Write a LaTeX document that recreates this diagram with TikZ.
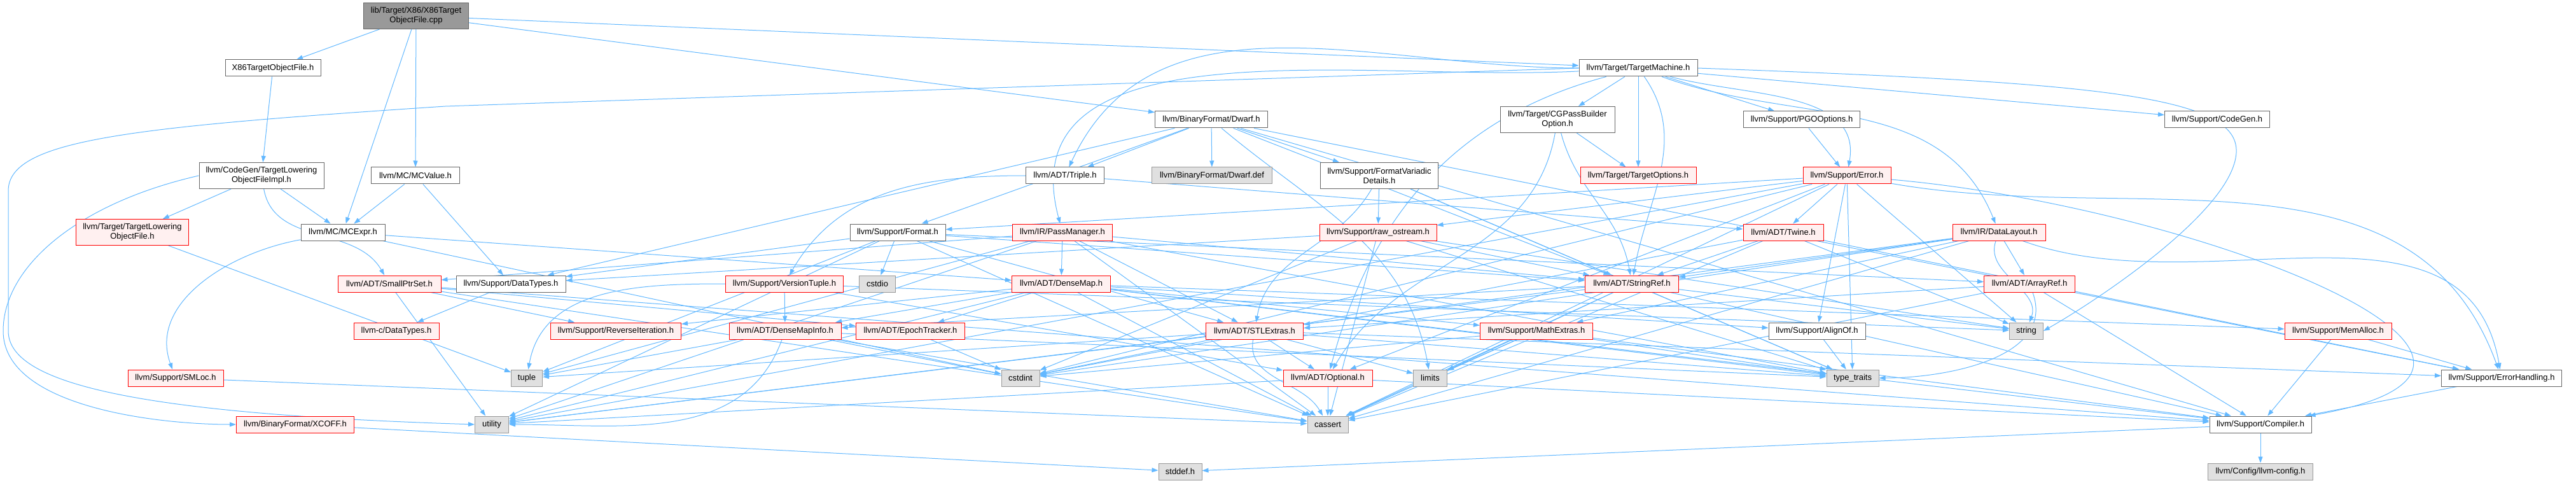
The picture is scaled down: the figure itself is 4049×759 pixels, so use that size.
\documentclass[tikz,border=0pt]{standalone}
\usepackage{fontspec}
\setmainfont{Liberation Sans}
\usepackage{xcolor}
\usepackage{tikz}
\usetikzlibrary{arrows.meta,backgrounds}
\definecolor{DXEdge}{HTML}{63B8FF}
\definecolor{DXLine}{HTML}{666666}
\definecolor{DXRed}{HTML}{FF0000}
\definecolor{DXRedFill}{HTML}{FFF0F0}
\definecolor{DXSys}{HTML}{E0E0E0}
\definecolor{DXSysLine}{HTML}{999999}
\definecolor{DXRoot}{HTML}{999999}

\begin{document}
\begin{tikzpicture}[x=1pt,y=-1pt,
  hdr/.style={draw=DXLine,fill=white,line width=1pt,inner sep=0pt,minimum height=26pt,align=center,font=\fontsize{13}{15}\selectfont},
  hdrred/.style={hdr,draw=DXRed,fill=DXRedFill},
  hdrsys/.style={hdr,draw=DXSysLine,fill=DXSys},
  hdrroot/.style={hdr,fill=DXRoot},
  dep/.style={DXEdge,line width=1pt,-{Stealth[length=10pt,width=7pt,inset=0pt]}}]
\useasboundingbox (0,0) rectangle (4049,759);
\node[hdrroot,minimum width=165,minimum height=41] (root) at (654,25) {lib/Target/X86/X86Target\\ObjectFile.cpp};
\node[hdr,minimum width=150] (x86tof) at (429,107) {X86TargetObjectFile.h};
\node[hdr,minimum width=186] (tm) at (2575,107) {llvm/Target/TargetMachine.h};
\node[hdr,minimum width=177] (dwarf) at (1904,188) {llvm/BinaryFormat/Dwarf.h};
\node[hdr,minimum width=180,minimum height=41] (cgpass) at (2448,188) {llvm/Target/CGPassBuilder\\Option.h};
\node[hdr,minimum width=183] (pgo) at (2832,188) {llvm/Support/PGOOptions.h};
\node[hdr,minimum width=165] (codegen) at (3485,188) {llvm/Support/CodeGen.h};
\node[hdr,minimum width=196,minimum height=41] (tlofimpl) at (411,276) {llvm/CodeGen/TargetLowering\\ObjectFileImpl.h};
\node[hdr,minimum width=139] (mcvalue) at (653,276) {llvm/MC/MCValue.h};
\node[hdr,minimum width=123] (triple) at (1674,276) {llvm/ADT/Triple.h};
\node[hdrsys,minimum width=189] (dwarfdef) at (1905,276) {llvm/BinaryFormat/Dwarf.def};
\node[hdr,minimum width=185,minimum height=41] (fvd) at (2168,276) {llvm/Support/FormatVariadic\\Details.h};
\node[hdrred,minimum width=182] (topts) at (2575,276) {llvm/Target/TargetOptions.h};
\node[hdrred,minimum width=138] (error) at (2903,276) {llvm/Support/Error.h};
\node[hdrred,minimum width=177,minimum height=41] (tlof) at (208,365) {llvm/Target/TargetLowering\\ObjectFile.h};
\node[hdr,minimum width=132] (mcexpr) at (539,365) {llvm/MC/MCExpr.h};
\node[hdr,minimum width=150] (format) at (1411,365) {llvm/Support/Format.h};
\node[hdrred,minimum width=157] (passmgr) at (1670,365) {llvm/IR/PassManager.h};
\node[hdrred,minimum width=184] (rawos) at (2166,365) {llvm/Support/raw\_ostream.h};
\node[hdrred,minimum width=126] (twine) at (2803,365) {llvm/ADT/Twine.h};
\node[hdrred,minimum width=146] (datalayout) at (3142,365) {llvm/IR/DataLayout.h};
\node[hdrred,minimum width=162] (smallptrset) at (612,446) {llvm/ADT/SmallPtrSet.h};
\node[hdr,minimum width=172] (datatypes) at (803,446) {llvm/Support/DataTypes.h};
\node[hdrred,minimum width=185] (versiontuple) at (1233,446) {llvm/Support/VersionTuple.h};
\node[hdrsys,minimum width=57] (cstdio) at (1379,446) {cstdio};
\node[hdrred,minimum width=155] (densemap) at (1668,446) {llvm/ADT/DenseMap.h};
\node[hdrred,minimum width=147] (stringref) at (2565,446) {llvm/ADT/StringRef.h};
\node[hdrred,minimum width=143] (arrayref) at (3190,446) {llvm/ADT/ArrayRef.h};
\node[hdrred,minimum width=134] (cdatatypes) at (623,520) {llvm-c/DataTypes.h};
\node[hdrred,minimum width=205] (reverseiter) at (968,520) {llvm/Support/ReverseIteration.h};
\node[hdrred,minimum width=176] (densemapinfo) at (1234,520) {llvm/ADT/DenseMapInfo.h};
\node[hdrred,minimum width=171] (epoch) at (1431,520) {llvm/ADT/EpochTracker.h};
\node[hdrred,minimum width=153] (stlextras) at (1972,520) {llvm/ADT/STLExtras.h};
\node[hdrred,minimum width=177] (mathextras) at (2415,520) {llvm/Support/MathExtras.h};
\node[hdr,minimum width=152] (alignof) at (2856,520) {llvm/Support/AlignOf.h};
\node[hdrsys,minimum width=53] (string) at (3185,520) {string};
\node[hdrred,minimum width=168] (memalloc) at (3675,520) {llvm/Support/MemAlloc.h};
\node[hdrred,minimum width=150] (smloc) at (276,594) {llvm/Support/SMLoc.h};
\node[hdrsys,minimum width=49] (tuple) at (828,594) {tuple};
\node[hdrsys,minimum width=60] (cstdint) at (1604,594) {cstdint};
\node[hdrred,minimum width=140] (optional) at (2087,594) {llvm/ADT/Optional.h};
\node[hdrsys,minimum width=53] (limits) at (2248,594) {limits};
\node[hdrsys,minimum width=82] (typetraits) at (2912,594) {type\_traits};
\node[hdr,minimum width=189] (errhandling) at (3932,594) {llvm/Support/ErrorHandling.h};
\node[hdrred,minimum width=185] (xcoff) at (464,667) {llvm/BinaryFormat/XCOFF.h};
\node[hdrsys,minimum width=53] (utility) at (773,667) {utility};
\node[hdrsys,minimum width=64] (cassert) at (2087,667) {cassert};
\node[hdr,minimum width=160] (compiler) at (3553,667) {llvm/Support/Compiler.h};
\node[hdrsys,minimum width=68] (stddef) at (1855,741) {stddef.h};
\node[hdrsys,minimum width=165] (llvmconfig) at (3553,741) {llvm/Config/llvm-config.h};
\begin{scope}[on background layer]
\draw[dep] (root) edge (x86tof) edge (mcvalue) edge (mcexpr) edge (dwarf) edge (tm);
\draw[dep] (x86tof) edge (tlofimpl);
\draw[dep] (tlofimpl) edge (tlof) edge (mcexpr) edge[out=-80,in=120] (smallptrset);
\draw[dep] (tlofimpl.west) .. controls (120,320) and (5,420) .. (5,520) .. controls (5,640) and (250,667) .. (xcoff.west);
\draw[dep] (mcvalue) edge (mcexpr) edge (datatypes);
\draw[dep] (tlof) edge (tuple);
\draw[dep] (mcexpr) edge (densemap) edge[out=190,in=110] (smloc) edge (cstdint);
\draw[dep] (tm) edge[out=180,in=65] (triple) edge[out=183,in=105] (passmgr) edge (cgpass) edge (topts) edge[out=-15,in=80] (error) edge[out=-20,in=112] (datalayout) edge (pgo) edge (codegen) edge[out=-55,in=80] (stringref) edge[out=195,in=75] (optional);
\draw[dep] (tm.west) -- (700,167) .. controls (200,200) and (13,220) .. (13,300) -- (13,520) .. controls (13,600) and (200,650) .. (utility.west);
\draw[dep] (tm.east) .. controls (3300,130) and (3520,150) .. (3515,240) .. controls (3510,330) and (3300,470) .. (string.east);
\draw[dep] (dwarf) edge (dwarfdef) edge (triple) edge (format) edge (fvd) edge[out=-40,in=100] (limits) edge (errhandling) edge (compiler) edge (stringref) edge (datatypes);
\draw[dep] (cgpass) edge[out=-100,in=60] (optional) edge (topts) edge[out=-75,in=100] (stringref);
\draw[dep] (pgo) edge (error);
\draw[dep] (triple) edge (twine) edge[out=180,in=60] (versiontuple);
\draw[dep] (fvd) edge[out=-120,in=80] (stlextras) edge (rawos) edge (stringref) edge (typetraits);
\draw[dep] (error) edge (twine) edge (alignof) edge (rawos) edge (format) edge[out=-5,in=10,looseness=1.6] (compiler) edge[out=-10,in=110] (errhandling) edge (cassert) edge (cstdint) edge (string) edge (typetraits) edge (utility) edge (optional);
\draw[dep] (format) edge (arrayref) edge (stlextras) edge (stringref) edge (datatypes) edge (cassert) edge (cstdio) edge (tuple) edge (utility);
\draw[dep] (passmgr) edge (densemap) edge (stlextras) edge (smallptrset) edge (stringref) edge (cassert) edge (tuple) edge (typetraits) edge (utility);
\draw[dep] (rawos) edge (stringref) edge (datatypes) edge (cassert) edge (cstdint) edge (string) edge (typetraits);
\draw[dep] (twine) edge (stringref) edge (errhandling) edge (cassert) edge (cstdint) edge (string);
\draw[dep] (datalayout) edge (arrayref) edge (stringref) edge (stlextras) edge[out=-20,in=100] (errhandling) edge (mathextras) edge (cassert) edge (cstdint) edge[out=-110,in=70] (string);
\draw[dep] (smallptrset) edge (epoch) edge (compiler) edge (reverseiter) edge (cassert) edge (utility);
\draw[dep] (datatypes) edge (cdatatypes);
\draw[dep] (versiontuple) edge (densemapinfo) edge (optional) edge (string) edge[out=180,in=80] (tuple);
\draw[dep] (densemap) edge (densemapinfo) edge (epoch) edge (alignof) edge (compiler) edge (mathextras) edge (memalloc) edge (reverseiter) edge (cassert) edge (typetraits) edge (utility);
\draw[dep] (stringref) edge (densemapinfo) edge (compiler) edge (cassert) edge (limits) edge (string) edge (typetraits) edge (utility);
\draw[dep] (arrayref) edge (stlextras) edge (compiler) edge (cassert) edge[out=-70,in=0] (typetraits);
\draw[dep] (densemapinfo) edge (cassert) edge (cstdint) edge (tuple) edge (typetraits) edge[out=-110,in=0] (utility);
\draw[dep] (epoch) edge (cstdint);
\draw[dep] (stlextras) edge (errhandling) edge[out=-100,in=120] (cassert) edge (cstdint) edge (limits) edge (optional) edge (tuple) edge (typetraits) edge (utility);
\draw[dep] (mathextras) edge (compiler) edge (cassert) edge (cstdint) edge (limits) edge (typetraits);
\draw[dep] (alignof) edge (typetraits);
\draw[dep] (memalloc) edge (compiler) edge (errhandling);
\draw[dep] (smloc) edge (cassert);
\draw[dep] (optional) edge (cassert) edge (compiler) edge (utility);
\draw[dep] (errhandling) edge (compiler);
\draw[dep] (compiler) edge (llvmconfig) edge (stddef);
\draw[dep] (xcoff) edge (stddef);
\end{scope}
\end{tikzpicture}
\end{document}
